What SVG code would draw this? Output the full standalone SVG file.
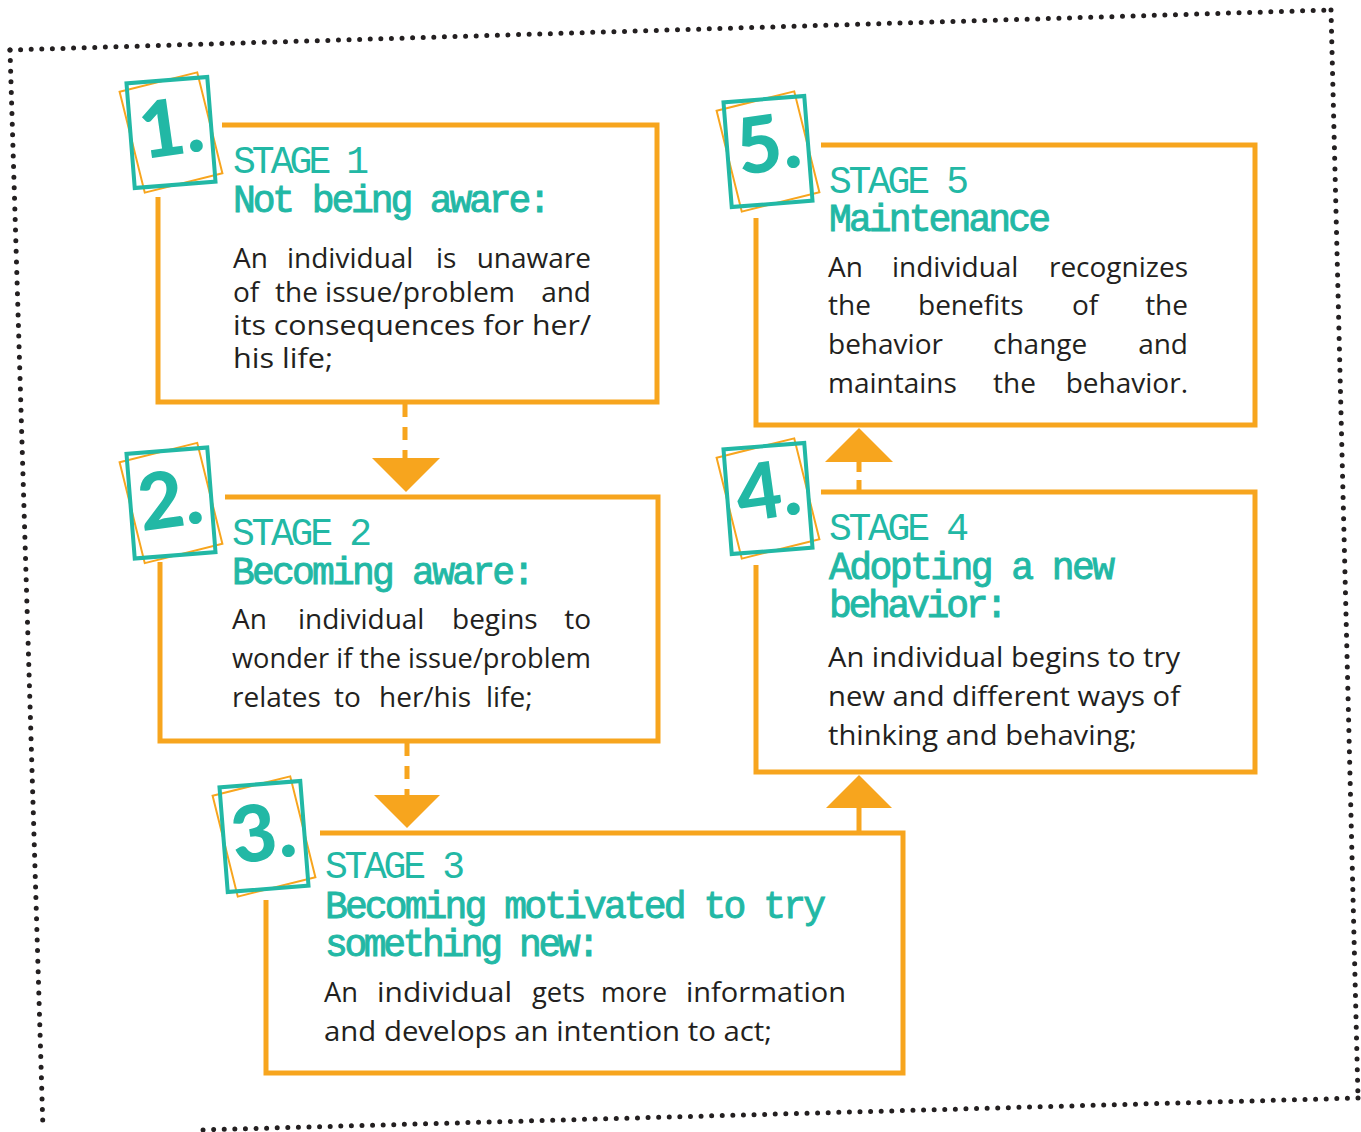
<svg xmlns="http://www.w3.org/2000/svg" width="1361" height="1132" viewBox="0 0 1361 1132">
<style>
.frame{fill:none;stroke:#231f20;stroke-width:5;stroke-linecap:round;stroke-dasharray:0 10.6}
.box{fill:none;stroke:#f7a51e;stroke-width:5}
.tq{fill:none;stroke:#22b8a5;stroke-width:4}
.or{fill:none;stroke:#f7a51e;stroke-width:2}
.num{fill:#22b8a5;font-family:"Lato","Roboto","Open Sans",sans-serif;font-weight:900;font-size:78px;text-anchor:middle}
.st{fill:#22b8a5;font-family:"Liberation Mono","Courier New",monospace;font-size:38px}
.sub{fill:#22b8a5;stroke:#22b8a5;stroke-width:0.9;font-family:"Liberation Mono","Courier New",monospace;font-size:38px}
.b{fill:#231f20;font-family:"Open Sans","Liberation Sans",sans-serif;font-size:28px}
.e{text-anchor:end}
.con{fill:none;stroke:#f7a51e;stroke-width:5}
.dash{stroke-dasharray:13 10}
.tri{fill:#f7a51e}
</style>
<defs>
<g id="badge">
<rect class="or" x="-40" y="-52" width="80" height="104" transform="rotate(-14)"/>
<rect class="tq" x="-40.5" y="-52.5" width="81" height="105" transform="rotate(-4.5)"/>
</g>
</defs>

<g id="frame">
<path class="frame" d="M10,50 L1331,10"/>
<path class="frame" d="M1331,10 L1358,1098"/>
<path class="frame" d="M1358,1098 L200,1130"/>
<path class="frame" d="M10,50 L43,1130"/>
</g>

<g id="connectors">
<line class="con dash" x1="405" y1="404" x2="405" y2="460"/>
<polygon class="tri" points="372,458 440,458 406,492"/>
<line class="con dash" x1="407" y1="743" x2="407" y2="797"/>
<polygon class="tri" points="374,795 440,795 407,828"/>
<line class="con" x1="859" y1="831" x2="859" y2="806"/>
<polygon class="tri" points="826,808 892,808 859,775"/>
<line class="con" x1="859" y1="462" x2="859" y2="472"/>
<line class="con" x1="859" y1="480" x2="859" y2="490"/>
<polygon class="tri" points="825,462 893,462 859,428"/>
</g>

<g id="stage1">
<path class="box" d="M222,125 H657 V402 H158 V197"/>
<use href="#badge" transform="translate(171,132.5)"/>
<text class="num" x="171" y="155" transform="rotate(-8 171 127)">1.</text>
<text class="st" x="233" y="173" textLength="136">STAGE 1</text>
<text class="sub" x="233" y="212" textLength="318">Not being aware:</text>
<text class="b" y="268"><tspan x="233">An</tspan><tspan x="287">individual</tspan><tspan x="436">is</tspan></text>
<text class="b e" x="591" y="268">unaware</text>
<text class="b" y="302"><tspan x="233">of</tspan><tspan x="275">the</tspan><tspan x="325" textLength="190" lengthAdjust="spacingAndGlyphs">issue/problem</tspan></text>
<text class="b e" x="591" y="302">and</text>
<text class="b" x="233" y="335" textLength="358" lengthAdjust="spacingAndGlyphs">its consequences for her/</text>
<text class="b" x="233" y="368" textLength="100" lengthAdjust="spacingAndGlyphs">his life;</text>
</g>

<g id="stage2">
<path class="box" d="M225,497 H658 V741 H160 V562"/>
<use href="#badge" transform="translate(171,503)"/>
<text class="num" x="170" y="527" transform="rotate(-8 170 499)">2.</text>
<text class="st" x="232" y="545" textLength="140">STAGE 2</text>
<text class="sub" x="232" y="584" textLength="303">Becoming aware:</text>
<text class="b" y="629"><tspan x="232">An</tspan><tspan x="298">individual</tspan><tspan x="452">begins</tspan></text>
<text class="b e" x="591" y="629">to</text>
<text class="b" x="232" y="668" textLength="359" lengthAdjust="spacingAndGlyphs">wonder if the issue/problem</text>
<text class="b" y="707"><tspan x="232">relates</tspan><tspan x="334">to</tspan><tspan x="379">her/his</tspan><tspan x="486">life;</tspan></text>
</g>

<g id="stage3">
<path class="box" d="M320,833 H903 V1073 H266 V900"/>
<use href="#badge" transform="translate(264,836.5)"/>
<text class="num" x="263" y="860" transform="rotate(-8 263 832)">3.</text>
<text class="st" x="325" y="878" textLength="140">STAGE 3</text>
<text class="sub" x="325" y="918" textLength="501">Becoming motivated to try</text>
<text class="sub" x="325" y="956" textLength="275">something new:</text>
<text class="b" y="1002"><tspan x="324" textLength="34" lengthAdjust="spacingAndGlyphs">An</tspan><tspan x="377" textLength="135" lengthAdjust="spacingAndGlyphs">individual</tspan><tspan x="532" textLength="53" lengthAdjust="spacingAndGlyphs">gets</tspan><tspan x="601" textLength="66" lengthAdjust="spacingAndGlyphs">more</tspan><tspan x="686" textLength="160" lengthAdjust="spacingAndGlyphs">information</tspan></text>
<text class="b" x="324" y="1041" textLength="448" lengthAdjust="spacingAndGlyphs">and develops an intention to act;</text>
</g>

<g id="stage4">
<path class="box" d="M821,492 H1255 V772 H756 V565"/>
<use href="#badge" transform="translate(768,498.5)"/>
<text class="num" x="768" y="518" transform="rotate(-8 768 490)">4.</text>
<text class="st" x="829" y="540" textLength="140">STAGE 4</text>
<text class="sub" x="829" y="579" textLength="286">Adopting a new</text>
<text class="sub" x="829" y="617" textLength="179">behavior:</text>
<text class="b" x="828" y="667" textLength="352" lengthAdjust="spacingAndGlyphs">An individual begins to try</text>
<text class="b" x="828" y="706" textLength="352" lengthAdjust="spacingAndGlyphs">new and different ways of</text>
<text class="b" x="828" y="745" textLength="309" lengthAdjust="spacingAndGlyphs">thinking and behaving;</text>
</g>

<g id="stage5">
<path class="box" d="M821,145 H1255 V425 H756 V218"/>
<use href="#badge" transform="translate(768,151.5)"/>
<text class="num" x="768" y="171" transform="rotate(-8 768 143)">5.</text>
<text class="st" x="829" y="193" textLength="140">STAGE 5</text>
<text class="sub" x="829" y="231" textLength="222">Maintenance</text>
<text class="b" y="277"><tspan x="828">An</tspan><tspan x="892">individual</tspan></text>
<text class="b e" x="1188" y="277">recognizes</text>
<text class="b" y="315"><tspan x="828">the</tspan><tspan x="918">benefits</tspan><tspan x="1072">of</tspan></text>
<text class="b e" x="1188" y="315">the</text>
<text class="b" y="354"><tspan x="828">behavior</tspan><tspan x="993">change</tspan></text>
<text class="b e" x="1188" y="354">and</text>
<text class="b" y="393"><tspan x="828">maintains</tspan><tspan x="993">the</tspan></text>
<text class="b e" x="1188" y="393">behavior.</text>
</g>
</svg>
